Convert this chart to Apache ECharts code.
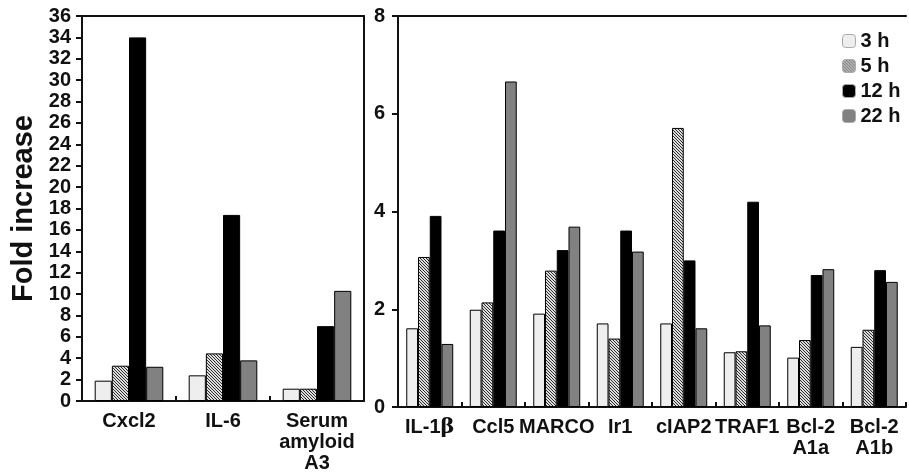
<!DOCTYPE html>
<html>
<head>
<meta charset="utf-8">
<script src="https://cdn.jsdelivr.net/npm/echarts@6/dist/echarts.min.js"></script>
<style>
  html, body { margin: 0; padding: 0; background: #fff; }
  #chart { width: 909px; height: 474px; }
</style>
</head>
<body>
<div id="chart"></div>
<script>
(function() {
  // data
  var leftGenes = ['Cxcl2', 'IL-6', 'Serum\namyloid\nA3'];
  var rightGenes = ['IL-1{g|β}', 'Ccl5', 'MARCO', 'Ir1', 'cIAP2', 'TRAF1', 'Bcl-2\nA1a', 'Bcl-2\nA1b'];
  var timepoints = ['3 h', '5 h', '12 h', '22 h'];

  var left3h = [1.9, 2.4, 1.15];
  var left5h = [3.3, 4.45, 1.15];
  var left12h = [34.0, 17.4, 7.0];
  var left22h = [3.2, 3.8, 10.3];

  var right3h = [1.61, 1.99, 1.91, 1.71, 1.71, 1.12, 1.01, 1.23];
  var right5h = [3.07, 2.14, 2.79, 1.40, 5.71, 1.14, 1.37, 1.58];
  var right12h = [3.91, 3.61, 3.21, 3.61, 3.00, 4.20, 2.70, 2.80];
  var right22h = [1.29, 6.66, 3.69, 3.18, 1.61, 1.67, 2.82, 2.56];

  var leftTicks = { min: 0, max: 36, interval: 2 };
  var rightTicks = { min: 0, max: 8, interval: 2 };

  // hatch pattern for the 5 h bars
  var cv = document.createElement('canvas');
  cv.width = 3; cv.height = 3;
  var cx = cv.getContext('2d');
  cx.fillStyle = '#dcdcdc';
  cx.fillRect(0, 0, 3, 3);
  cx.fillStyle = '#2e2e2e';
  for (var i = 0; i < 3; i++) { cx.fillRect(i, i, 1, 1); }
  var hatch = { image: cv, repeat: 'repeat' };

  var fills = ['#eeeeee', hatch, '#000000', '#818181'];
  var font = '"Liberation Sans", Arial, Helvetica, sans-serif';
  var ink = '#111';

  function xAx(idx, data) {
    return {
      type: 'category', gridIndex: idx, data: data,
      axisLine: { lineStyle: { color: ink, width: 2 } },
      axisTick: { show: true, inside: true, length: 5, lineStyle: { color: ink, width: 2 } },
      axisLabel: {
        color: ink, fontFamily: font, fontWeight: 'bold', fontSize: 20,
        lineHeight: 21, margin: 10, interval: 0,
        rich: { g: { fontFamily: '"DejaVu Serif", "Liberation Serif", serif', fontSize: 21, color: ink } }
      }
    };
  }
  // plain line along the top of each panel
  function topAx(idx) {
    return {
      type: 'value', gridIndex: idx, position: 'top', min: 0, max: 1,
      axisLine: { show: true, onZero: false, lineStyle: { color: ink, width: 2 } },
      axisTick: { show: false }, axisLabel: { show: false }, splitLine: { show: false }
    };
  }
  function yAx(idx, t, extra) {
    var ax = {
      type: 'value', gridIndex: idx, min: t.min, max: t.max, interval: t.interval,
      axisLine: { show: true, lineStyle: { color: ink, width: 2 } },
      axisTick: { show: true, length: 6, lineStyle: { color: ink, width: 2 } },
      axisLabel: { color: ink, fontFamily: font, fontWeight: 'bold', fontSize: 20, margin: 11 },
      splitLine: { show: false }
    };
    for (var k in extra) ax[k] = extra[k];
    return ax;
  }

  var series = [];
  var leftData = [left3h, left5h, left12h, left22h];
  var rightData = [right3h, right5h, right12h, right22h];
  timepoints.forEach(function(t, j) {
    series.push({
      name: t, type: 'bar', xAxisIndex: 0, yAxisIndex: 0, data: leftData[j],
      barGap: '0%', barCategoryGap: '27%',
      itemStyle: { color: fills[j], borderColor: '#000', borderWidth: 1 }
    });
    series.push({
      name: t, type: 'bar', xAxisIndex: 1, yAxisIndex: 2, data: rightData[j],
      barGap: '0%', barCategoryGap: '26%',
      itemStyle: { color: fills[j], borderColor: '#000', borderWidth: 1 }
    });
  });

  var chart = echarts.init(document.getElementById('chart'), null, { renderer: 'canvas' });
  chart.setOption({
    animation: false,
    backgroundColor: '#fff',
    legend: {
      data: timepoints, orient: 'vertical', left: 842, top: 31, padding: 0,
      itemWidth: 13, itemHeight: 13, itemGap: 5,
      textStyle: { color: ink, fontFamily: font, fontWeight: 'bold', fontSize: 20 },
      itemStyle: { borderColor: '#aaa', borderWidth: 1 }
    },
    grid: [
      { left: 82, top: 16, width: 282, height: 391 },
      { left: 398, top: 16, width: 508, height: 391 }
    ],
    xAxis: [xAx(0, leftGenes), xAx(1, rightGenes), topAx(0), topAx(1)],
    yAxis: [
      yAx(0, leftTicks, { name: 'Fold increase', nameLocation: 'middle', nameGap: 44,
        nameTextStyle: { color: ink, fontFamily: font, fontWeight: 'bold', fontSize: 29 } }),
      yAx(0, leftTicks, { position: 'right', axisTick: { show: false }, axisLabel: { show: false } }),
      yAx(1, rightTicks, { axisLabel: { color: ink, fontFamily: font, fontWeight: 'bold', fontSize: 20, margin: 13 } })
    ],
    series: series
  });
  window.addEventListener('resize', function() { chart.resize(); });
})();
</script>
</body>
</html>
